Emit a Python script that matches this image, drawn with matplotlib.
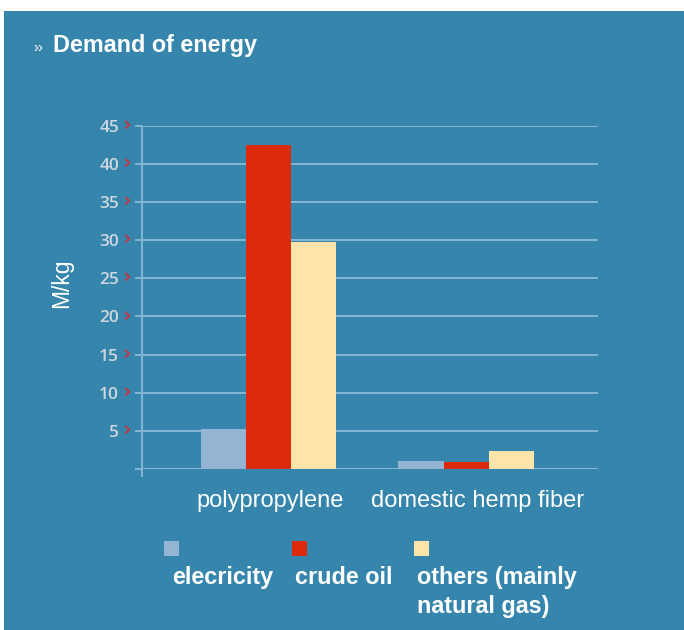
import matplotlib
matplotlib.use("Agg")
import matplotlib.pyplot as plt
from matplotlib.patches import Rectangle
from matplotlib.lines import Line2D
import numpy as np

# Energy demand per kg of fibre material, split by source
categories = ["polypropylene", "domestic hemp fiber"]
sources = ["elecricity", "crude oil", "others (mainly\nnatural gas)"]
electricity = [5.3, 1.05]
crude_oil = [42.5, 0.95]
others = [29.8, 2.4]
y_ticks = [0, 5, 10, 15, 20, 25, 30, 35, 40, 45]
y_tick_labels = ["", "5", "10", "15", "20", "25", "30", "35", "40", "45"]

BG = "#3585AD"
GRID = "#86B6D3"
TICK_TXT = "#CFD7DE"
MARK_RED = "#C0394A"
COLORS = ["#93B4D2", "#DB2B0C", "#FDE5A9"]

plt.rcParams["font.family"] = ["Liberation Sans", "DejaVu Sans"]

W, H = 684, 630
fig = plt.figure(figsize=(W / 100, H / 100), dpi=100, facecolor="white")

# blue panel behind everything
fig.patches.append(Rectangle((3.5 / W, 0), 1 - 3.5 / W, (H - 11) / H,
                             transform=fig.transFigure, facecolor=BG,
                             edgecolor="none", zorder=-5))

ax = fig.add_axes([141.7 / W, (H - 469) / H, (598 - 141.7) / W, (469 - 125.7) / H])
ax.set_facecolor("none")
ax.set_zorder(2)

x = np.arange(len(categories))
bw = 0.228
series = [electricity, crude_oil, others]
for k, vals in enumerate(series):
    ax.bar(x + (k - 1) * bw, vals, width=bw, color=COLORS[k], edgecolor="none", zorder=3)

ax.set_xlim(-0.642, 1.668)
ax.set_ylim(0, 45)
ax.set_yticks(y_ticks)
ax.set_yticklabels(y_tick_labels, family=["Open Sans", "DejaVu Sans"], fontsize=12.5,
                   fontweight="semibold", color=TICK_TXT)
ax.tick_params(axis="y", length=4.8, width=1.4, color=GRID, pad=11.5)
ax.set_xticks([])
ax.set_axisbelow(True)
ax.yaxis.grid(True, color=GRID, linewidth=1.4)
for s in ax.spines.values():
    s.set_visible(False)

# vertical axis line, running a little below zero
ax.add_line(Line2D([0, 0], [-7 / 343, 1], transform=ax.transAxes, color=GRID,
                   linewidth=1.4, clip_on=False, zorder=2))

# small red chevrons beside each labelled tick
for t in y_ticks[1:]:
    ax.annotate("\u203a", xy=(0, t), xycoords=("axes fraction", "data"),
                xytext=(-10.5, 1), textcoords="offset points", ha="center",
                va="center", color=MARK_RED, fontsize=15, fontweight="bold",
                family=["DejaVu Sans"])

# category labels under each group
label_shift = [1, 8]
for i, name in enumerate(categories):
    ax.annotate(name, xy=(x[i], 0), xycoords="data",
                xytext=(label_shift[i], -15), textcoords="offset points",
                ha="center", va="top", color="white", fontsize=17)

fig.text(62 / W, 1 - 283 / H, "M/kg", rotation=90, ha="center", va="center",
         color="white", fontsize=16.5)

# title
fig.text(33 / W, 1 - 52 / H, "\u203a\u203a", color="white", fontsize=11,
         ha="left", va="baseline")
fig.text(53 / W, 1 - 52 / H, "Demand of energy", color="white", fontsize=16.8,
         fontweight="bold", ha="left", va="baseline")

# legend: swatches with labels beneath
sw_x = [164, 292, 414]
tx_x = [172, 295, 417]
for k, name in enumerate(sources):
    fig.patches.append(Rectangle((sw_x[k] / W, 1 - 556 / H), 15 / W, 15 / H,
                                 transform=fig.transFigure, facecolor=COLORS[k],
                                 edgecolor="none", zorder=3))
    for j, line in enumerate(name.split("\n")):
        fig.text(tx_x[k] / W, 1 - (584 + 28.7 * j) / H, line, color="white",
                 fontsize=16.8, fontweight="bold", ha="left", va="baseline")

fig.savefig("out.png", dpi=100, facecolor="white")
